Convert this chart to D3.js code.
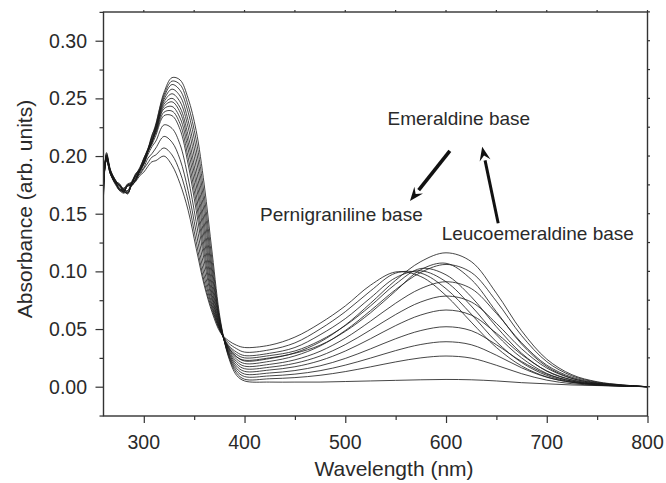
<!DOCTYPE html>
<html>
<head>
<meta charset="utf-8">
<script src="https://cdn.jsdelivr.net/npm/d3@7"></script>
<style>
  html, body { margin: 0; padding: 0; background: #fff; }
  svg { display: block; font-family: "Liberation Sans", Arial, sans-serif; }
</style>
</head>
<body>
<svg id="chart" width="666" height="483"></svg>
<script>
// ---- data (wavelength grid, nm) ----
const wavelengths = [260, 263, 267, 272, 276, 280, 284, 288, 292, 296, 300, 304, 308, 312,
  320, 328, 336, 344, 352, 360, 368, 376, 384, 392, 400,
  425, 450, 475, 500, 525, 550, 575, 600, 625, 650, 675, 700, 725, 750, 775, 800];

// absorbance spectra (arb. units), leucoemeraldine -> emeraldine -> pernigraniline
const spectrum01 = [.170, .201, .187, .178, .175, .171, .170, .177, .183, .189, .197, .205, .217, .228,
  .255, .268, .266, .250, .222, .175, .115, .058, .026, .010, .005, .004, .004, .004, .0045, .005, .0055, .006, .0063, .006, .005, .0035, .0025, .0015, .001, .0005, 0];
const spectrum02 = [.175, .198, .185, .176, .171, .169, .174, .175, .179, .188, .193, .204, .213, .227,
  .253, .265, .262, .244, .214, .166, .108, .056, .027, .012, .0065, .0069, .0079, .0099, .0131, .0172, .0215, .0250, .0266, .0248, .0186, .0113, .0057, .0026, .0012, .0005, 0];
const spectrum03 = [.165, .203, .188, .179, .174, .172, .169, .178, .184, .190, .198, .206, .218, .226,
  .251, .262, .257, .238, .206, .158, .102, .055, .028, .014, .0088, .0094, .0109, .0139, .0187, .0248, .0313, .0366, .0390, .0364, .0273, .0164, .0082, .0037, .0016, .0006, 0];
const spectrum04 = [.180, .196, .184, .175, .170, .168, .175, .174, .180, .187, .194, .203, .212, .225,
  .249, .258, .252, .231, .198, .150, .097, .054, .029, .016, .0110, .0119, .0140, .0181, .0245, .0328, .0416, .0487, .0520, .0486, .0364, .0219, .0109, .0048, .0021, .0008, 0];
const spectrum05 = [.172, .200, .186, .178, .176, .170, .168, .176, .185, .188, .196, .205, .216, .224,
  .247, .254, .247, .225, .190, .142, .092, .053, .030, .018, .0133, .0145, .0173, .0226, .0309, .0416, .0530, .0622, .0665, .0621, .0464, .0279, .0137, .0060, .0025, .0010, 0];
const spectrum06 = [.185, .197, .185, .177, .171, .169, .175, .175, .179, .187, .193, .204, .211, .223,
  .245, .250, .242, .218, .182, .135, .087, .052, .031, .020, .0156, .0169, .0203, .0266, .0365, .0492, .0626, .0735, .0786, .0735, .0549, .0329, .0162, .0071, .0030, .0011, 0];
const spectrum07 = [.168, .202, .187, .179, .174, .171, .167, .177, .183, .189, .198, .206, .215, .222,
  .243, .247, .238, .212, .175, .128, .083, .051, .032, .022, .0178, .0194, .0233, .0307, .0421, .0568, .0724, .0851, .0910, .0851, .0636, .0381, .0187, .0082, .0034, .0013, 0];
const spectrum08 = [.178, .199, .186, .176, .172, .170, .175, .176, .181, .188, .195, .204, .212, .221,
  .241, .243, .233, .206, .167, .121, .079, .050, .033, .024, .0201, .0220, .0267, .0353, .0487, .0659, .0842, .0991, .1060, .0991, .0741, .0443, .0217, .0094, .0039, .0015, 0];
const spectrum09 = [.190, .196, .184, .177, .175, .168, .170, .175, .184, .187, .197, .205, .213, .220,
  .238, .239, .228, .199, .160, .115, .076, .050, .034, .026, .0223, .0244, .0294, .0388, .0534, .0723, .0923, .1085, .1161, .1085, .0811, .0485, .0239, .0104, .0043, .0016, 0];
const spectrum10 = [.174, .200, .187, .178, .170, .171, .176, .177, .180, .188, .194, .204, .210, .218,
  .235, .235, .223, .193, .153, .109, .073, .049, .034, .026, .023, .025, .029, .036, .048, .064, .083, .1015, .1070, .093, .065, .037, .0175, .0073, .0029, .0011, 0];
const spectrum11 = [.182, .198, .185, .176, .174, .169, .168, .175, .183, .186, .193, .201, .208, .213,
  .227, .224, .210, .181, .143, .102, .070, .049, .035, .028, .025, .027, .031, .040, .053, .070, .089, .1025, .097, .078, .052, .029, .0135, .0057, .0023, .0009, 0];
const spectrum12 = [.166, .201, .186, .178, .171, .172, .175, .177, .179, .185, .190, .198, .202, .207,
  .217, .212, .197, .170, .134, .096, .068, .048, .036, .030, .027, .029, .034, .045, .059, .077, .0945, .1005, .091, .070, .045, .025, .0115, .0049, .0020, .0008, 0];
const spectrum13 = [.176, .197, .184, .177, .175, .170, .168, .176, .182, .184, .189, .194, .199, .201,
  .207, .201, .186, .161, .126, .091, .066, .048, .038, .033, .030, .032, .038, .050, .065, .083, .0985, .0985, .085, .063, .039, .021, .0098, .0042, .0018, .0007, 0];
const spectrum14 = [.188, .199, .186, .177, .172, .169, .174, .175, .178, .183, .186, .191, .195, .196,
  .200, .192, .176, .153, .120, .088, .064, .047, .040, .036, .034, .036, .043, .055, .070, .088, .0995, .0955, .079, .056, .034, .018, .0085, .0038, .0016, .0006, 0];

const spectra = [spectrum01, spectrum02, spectrum03, spectrum04, spectrum05, spectrum06, spectrum07,
  spectrum08, spectrum09, spectrum10, spectrum11, spectrum12, spectrum13, spectrum14];

const xTicks = [300, 400, 500, 600, 700, 800];
const yTicks = [0.00, 0.05, 0.10, 0.15, 0.20, 0.25, 0.30];
const xTitle = "Wavelength (nm)";
const yTitle = "Absorbance (arb. units)";

// annotations in data coordinates
const labels = [
  { text: "Emeraldine base", wl: 612.7, a: 0.2269, anchor: "middle" },
  { text: "Pernigraniline base", wl: 415.4, a: 0.1437, anchor: "start" },
  { text: "Leucoemeraldine base", wl: 595.7, a: 0.1272, anchor: "start" }
];
const arrows = [
  { from: [603.8, 0.2044], to: [564.2, 0.1610], width: 3.6 },
  { from: [651.8, 0.1417], to: [635.9, 0.2081], width: 3.0 }
];

// ---- drawing ----
const svg = d3.select("#chart");
const L = 103.5, R = 647.5, T = 12, B = 416;
const x = d3.scaleLinear().domain([260, 800]).range([L, R]);
const y = d3.scaleLinear().domain([-0.0254, 0.3249]).range([B, T]);

svg.append("defs").append("clipPath").attr("id", "plotclip")
  .append("rect").attr("x", L).attr("y", T).attr("width", R - L).attr("height", B - T);

const line = d3.line()
  .x(d => x(d[0])).y(d => y(d[1]))
  .curve(d3.curveCatmullRom.alpha(0.5));

svg.append("g").attr("clip-path", "url(#plotclip)")
  .selectAll("path").data(spectra).join("path")
  .attr("d", s => line(wavelengths.map((w, i) => [w, s[i]])))
  .attr("fill", "none")
  .attr("stroke", "#1a1a1a")
  .attr("stroke-width", 0.9)
  .attr("stroke-opacity", 0.9);

const axisColor = "#333";
const textColor = "#2a2a2a";

// bottom axis
const xAxis = svg.append("g").attr("transform", `translate(0,${B})`)
  .call(d3.axisBottom(x).tickValues(d3.range(300, 801, 50)).tickSize(0).tickFormat(""));
xAxis.select(".domain").remove();
xAxis.selectAll(".tick line").remove();
xAxis.selectAll(".tick").append("line")
  .attr("y2", d => d % 100 === 0 ? 7 : 4).attr("stroke", axisColor).attr("stroke-width", 1.2);
svg.append("g").selectAll("text").data(xTicks).join("text")
  .attr("x", d => x(d)).attr("y", 448.5)
  .attr("text-anchor", "middle").attr("font-size", 19.5).attr("fill", textColor)
  .text(d => d);

// top ticks
svg.append("g").selectAll("line").data(d3.range(300, 801, 50)).join("line")
  .attr("x1", d => x(d)).attr("x2", d => x(d)).attr("y1", T).attr("y2", T - 2)
  .attr("stroke", axisColor).attr("stroke-width", 1.2);

// left axis
const yAxis = svg.append("g").attr("transform", `translate(${L},0)`)
  .call(d3.axisLeft(y).tickValues(d3.range(-0.025, 0.326, 0.025)).tickSize(0).tickFormat(""));
yAxis.select(".domain").remove();
yAxis.selectAll(".tick line").remove();
yAxis.selectAll(".tick").append("line")
  .attr("x2", (d, i) => (i % 2 === 1) ? -8 : -4).attr("stroke", axisColor).attr("stroke-width", 1.2);
svg.append("g").selectAll("text").data(yTicks).join("text")
  .attr("x", 87).attr("y", d => y(d)).attr("dy", "0.36em")
  .attr("text-anchor", "end").attr("font-size", 19.5).attr("fill", textColor)
  .text(d => d3.format(".2f")(d));

// right ticks
svg.append("g").selectAll("line").data(d3.range(0, 0.326, 0.025)).join("line")
  .attr("x1", R).attr("x2", R + 2.5).attr("y1", d => y(d)).attr("y2", d => y(d))
  .attr("stroke", axisColor).attr("stroke-width", 1.2);

// frame
svg.append("rect").attr("x", L).attr("y", T).attr("width", R - L).attr("height", B - T)
  .attr("fill", "none").attr("stroke", axisColor).attr("stroke-width", 1.4);

// axis titles
svg.append("text").attr("x", 394).attr("y", 476)
  .attr("text-anchor", "middle").attr("font-size", 21).attr("fill", textColor).text(xTitle);
svg.append("text").attr("transform", "translate(32,209) rotate(-90)")
  .attr("text-anchor", "middle").attr("font-size", 21).attr("fill", textColor).text(yTitle);

// annotations
svg.append("g").selectAll("text").data(labels).join("text")
  .attr("x", d => x(d.wl)).attr("y", d => y(d.a))
  .attr("text-anchor", d => d.anchor).attr("font-size", 19).attr("fill", textColor)
  .text(d => d.text);

const ag = svg.append("g");
arrows.forEach(a => {
  const x1 = x(a.from[0]), y1 = y(a.from[1]), x2 = x(a.to[0]), y2 = y(a.to[1]);
  const ang = Math.atan2(y2 - y1, x2 - x1);
  const hl = 14, hw = 5.5;
  const bx = x2 - hl * Math.cos(ang), by = y2 - hl * Math.sin(ang);
  ag.append("line").attr("x1", x1).attr("y1", y1).attr("x2", bx).attr("y2", by)
    .attr("stroke", "#111").attr("stroke-width", a.width);
  const px = -Math.sin(ang), py = Math.cos(ang);
  ag.append("path")
    .attr("d", `M${x2},${y2} L${bx + px * hw},${by + py * hw} L${bx + 0.35 * hl * Math.cos(ang)},${by + 0.35 * hl * Math.sin(ang)} L${bx - px * hw},${by - py * hw} Z`)
    .attr("fill", "#111");
});
</script>
</body>
</html>
